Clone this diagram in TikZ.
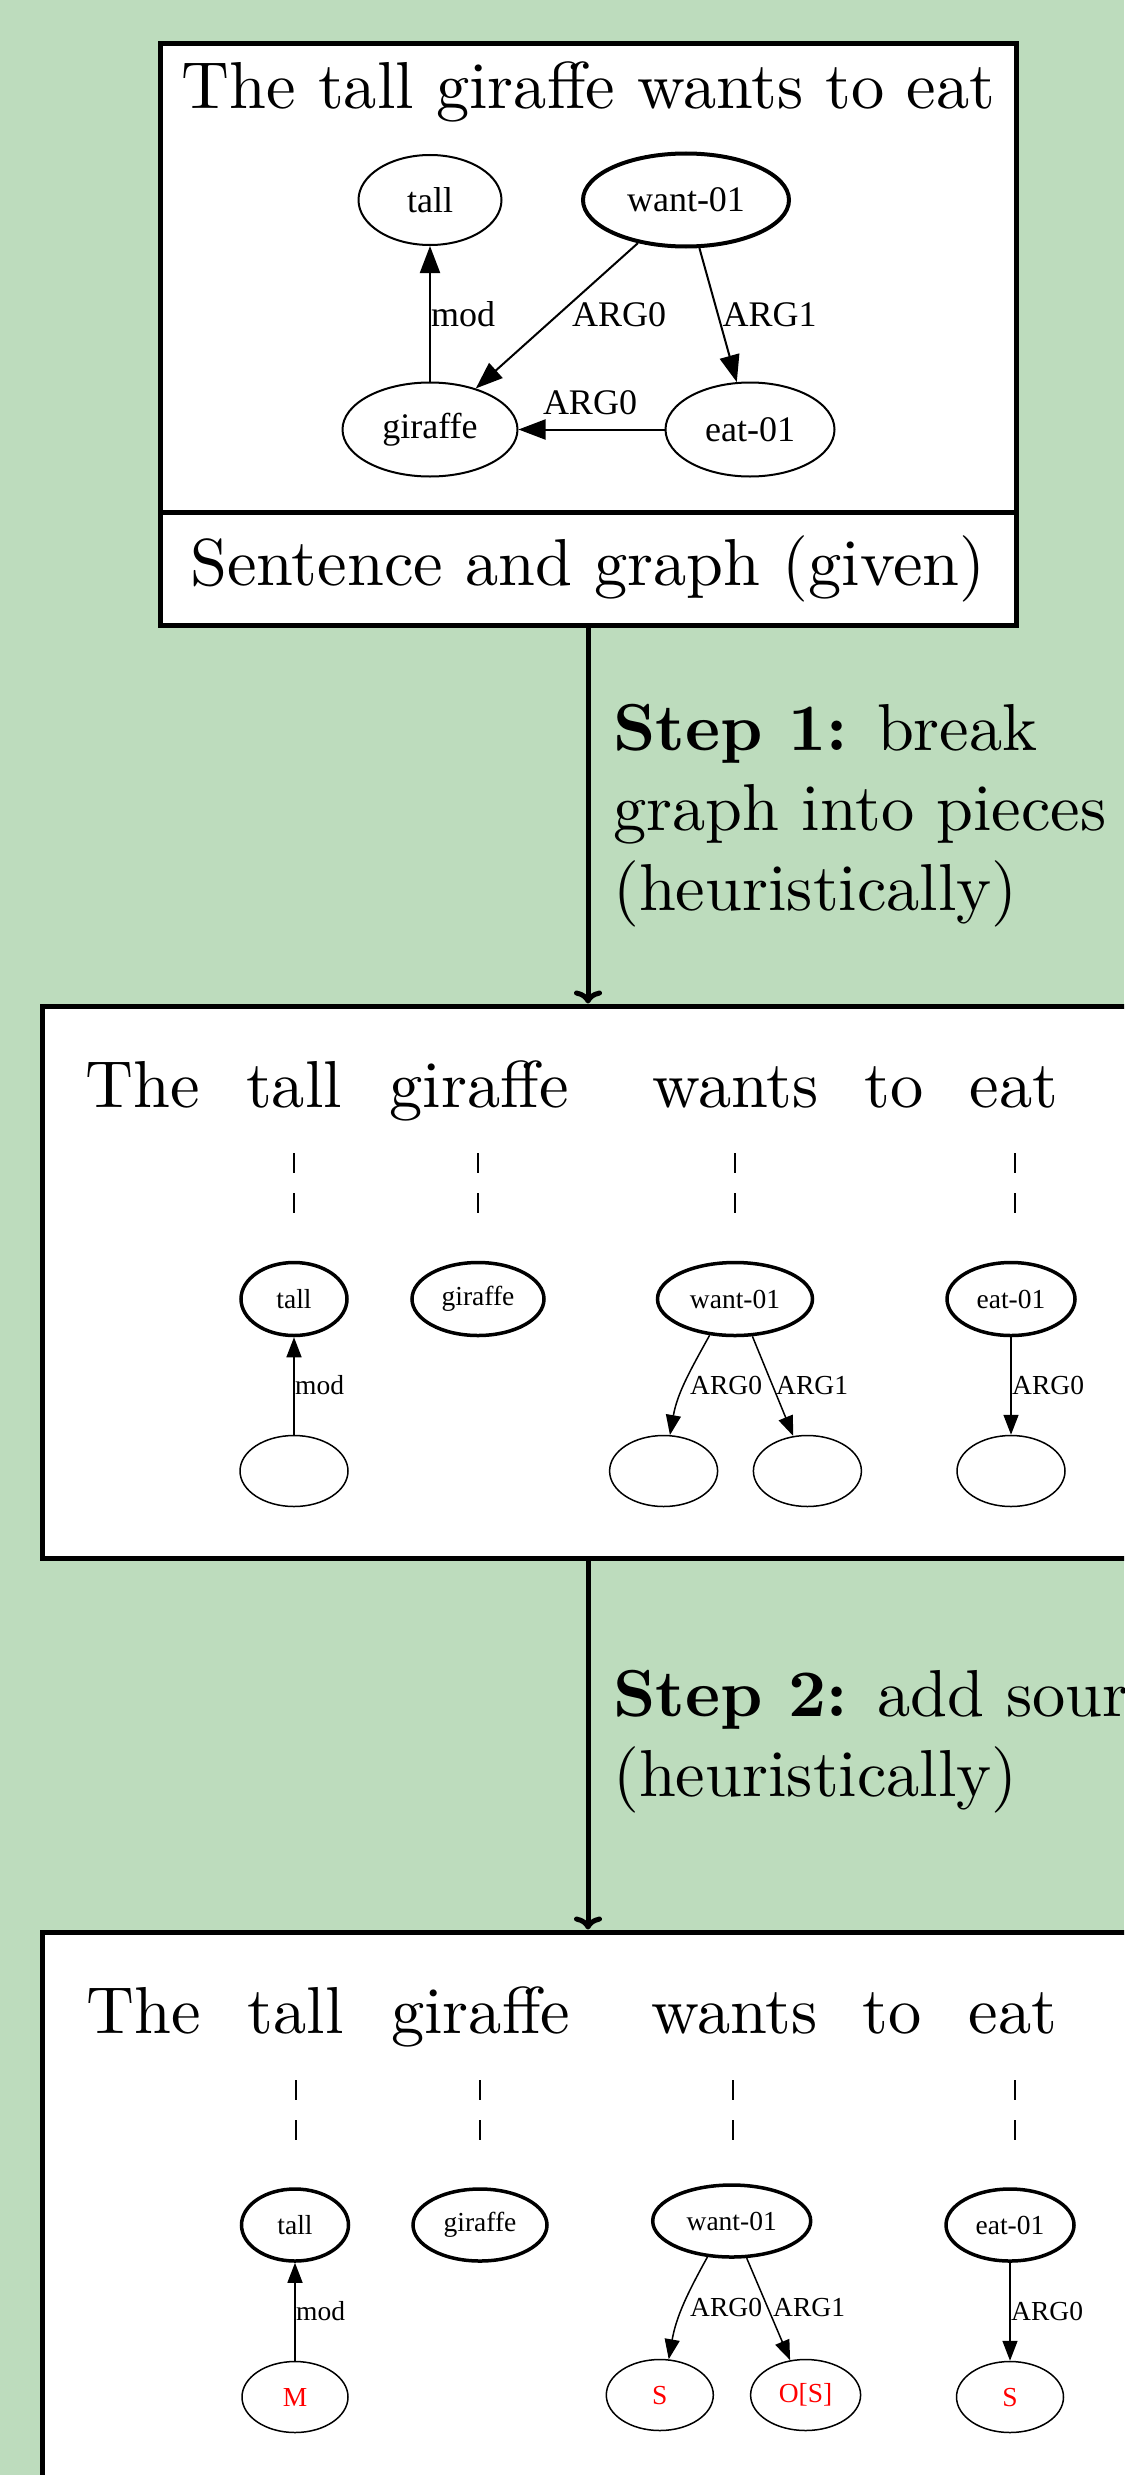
\documentclass[tikz,border=0pt]{standalone}
\usepackage{fontspec}
\setmainfont{lmroman10}[Extension=.otf, UprightFont=*-regular, BoldFont=*-bold]
\newfontfamily\gvfont{Liberation Serif}
\usetikzlibrary{shapes.geometric,arrows.meta}
\definecolor{bggreen}{RGB}{189,220,189}
\begin{document}
\begin{tikzpicture}[x=1pt,y=1pt,
  big/.style={font=\fontsize{66.4}{80}\selectfont, inner sep=0pt},
  box/.style={draw, line width=5pt, fill=white, rectangle, inner sep=0pt},
  gA/.style={ellipse, draw, line width=2pt, inner sep=0pt, font=\gvfont\fontsize{36}{43}\selectfont},
  gAthick/.style={gA, line width=4pt},
  gB/.style={ellipse, draw, line width=1.5pt, inner sep=0pt, minimum width=108pt, minimum height=71pt, font=\gvfont\fontsize{27.5}{33}\selectfont},
  gBthick/.style={gB, line width=3.5pt, minimum height=73pt},
  lblA/.style={inner sep=0pt, anchor=base west, font=\gvfont\fontsize{36}{43}\selectfont},
  lblB/.style={inner sep=0pt, anchor=base west, font=\gvfont\fontsize{27.5}{33}\selectfont},
  edgeA/.style={line width=2pt, -{Triangle[length=27pt,width=20pt]}},
  edgeB/.style={line width=1.5pt, -{Triangle[length=20pt,width=15pt]}},
  steparrow/.style={line width=5pt, -{To[length=13pt,width=28pt]}},
  wordlink/.style={line width=2.2pt, dash pattern=on 20pt off 20pt},
  word/.style={big, anchor=base},
  src/.style={text=red},
]
\useasboundingbox (0,0) rectangle (1124,-2475);
\clip (0,0) rectangle (1124,-2475);
\fill[bggreen] (0,0) rectangle (1124,-2475);

% ---------- top box ----------
\node[box, minimum width=856pt, minimum height=581.5pt] (topbox) at (588,-334.25) {};
\coordinate (divL) at (160,-512.5);
\coordinate (divR) at (1016,-512.5);
\draw[line width=5pt] (divL) -- (divR);
\node[big, anchor=base] (title) at (588.5,-108.5) {The tall giraffe wants to eat};
\node[big, anchor=base] (caption) at (588,-585) {Sentence and graph (given)};

\node[gA, minimum width=143pt, minimum height=90pt] (tallA) at (430,-200) {tall};
\node[gAthick, minimum width=206pt, minimum height=93pt] (wantA) at (686,-200) {want-01};
\node[gA, minimum width=175pt, minimum height=94pt] (girA) at (430,-429.5) {giraffe};
\node[gA, minimum width=169pt, minimum height=94pt] (eatA) at (750,-429.5) {eat-01};
\draw[edgeA] (girA) -- (tallA);
\draw[edgeA] (wantA) -- (girA);
\draw[edgeA] (wantA) -- (eatA);
\draw[edgeA] (eatA) -- (girA);
\node[lblA] (lA1) at (431,-326.6) {mod};
\node[lblA] (lA2) at (572,-326.6) {ARG0};
\node[lblA] (lA3) at (722.4,-326.6) {ARG1};
\node[lblA] (lA4) at (542.8,-414.6) {ARG0};

% ---------- middle box ----------
\node[box, minimum width=1092pt, minimum height=552pt] (midbox) at (588,-1282) {};
\draw[steparrow] (topbox.south) -- (midbox.north);
\node[big, anchor=base west, align=left] (step1) at (613,-910)
  {\textbf{Step 1:} break\\graph into pieces\\(heuristically)};

\node[word] (wB1) at (142.5,-1107) {The};
\node[word] (wB2) at (294,-1107) {tall};
\node[word] (wB3) at (479,-1107) {giraffe};
\node[word] (wB4) at (735.5,-1107) {wants};
\node[word] (wB5) at (894.5,-1107) {to};
\node[word] (wB6) at (1014,-1107) {eat};

\foreach \n/\x in {1/294,2/478,3/735,4/1015}{
  \coordinate (dBs\n) at (\x,-1153);
  \coordinate (dBe\n) at (\x,-1225);
  \draw[wordlink] (dBs\n) -- (dBe\n);
}

\node[gBthick, minimum width=106pt] (tallB) at (294,-1299) {tall};
\node[gBthick, minimum width=132pt] (girB) at (478,-1299) {giraffe};
\node[gBthick, minimum width=155pt] (wantB) at (735,-1299) {want-01};
\node[gBthick, minimum width=128pt] (eatB) at (1011,-1299) {eat-01};
\node[gB] (cT) at (294,-1471) {};
\node[gB] (cW1) at (663.6,-1471) {};
\node[gB] (cW2) at (807.4,-1471) {};
\node[gB] (cE) at (1011,-1471) {};
\draw[edgeB] (cT) -- (tallB);
\draw[edgeB] (wantB.235) to[out=241,in=80] (cW1.80);
\draw[edgeB] (wantB.295) -- (cW2.112);
\draw[edgeB] (eatB) -- (cE);
\node[lblB] (lB1) at (295,-1394) {mod};
\node[lblB] (lB2) at (690,-1394) {ARG0};
\node[lblB] (lB3) at (776,-1394) {ARG1};
\node[lblB] (lB4) at (1012,-1394) {ARG0};

% ---------- bottom box ----------
\node[box, minimum width=1092pt, minimum height=800pt] (botbox) at (588,-2332) {};
\draw[steparrow] (midbox.south) -- (botbox.north);
\node[big, anchor=base west, align=left] (step2) at (613,-1796.7)
  {\textbf{Step 2:} add sources\\(heuristically)};

\node[word] (wC1) at (144,-2033) {The};
\node[word] (wC2) at (295.5,-2033) {tall};
\node[word] (wC3) at (480.8,-2033) {giraffe};
\node[word] (wC4) at (734.4,-2033) {wants};
\node[word] (wC5) at (892.5,-2033) {to};
\node[word] (wC6) at (1013,-2033) {eat};

\foreach \n/\x in {1/296,2/480,3/733,4/1015}{
  \coordinate (dCs\n) at (\x,-2080);
  \coordinate (dCe\n) at (\x,-2152);
  \draw[wordlink] (dCs\n) -- (dCe\n);
}

\node[gBthick, minimum width=107pt, minimum height=72pt] (tallC) at (295,-2225) {tall};
\node[gBthick, minimum width=134pt, minimum height=72pt] (girC) at (480,-2225) {giraffe};
\node[gBthick, minimum width=158pt, minimum height=72pt] (wantC) at (731.7,-2221) {want-01};
\node[gBthick, minimum width=128pt, minimum height=72pt] (eatC) at (1010,-2225) {eat-01};
\node[gB, src, minimum width=106pt] (cM) at (295,-2397) {M};
\node[gB, src, minimum width=107pt] (cS1) at (659.8,-2395) {S};
\node[gB, src, minimum width=110pt] (cOS) at (805.6,-2395) {O[S]};
\node[gB, src, minimum width=107pt] (cS2) at (1010,-2397) {S};
\draw[edgeB] (cM) -- (tallC);
\draw[edgeB] (wantC.236) to[out=241,in=80] (cS1.76);
\draw[edgeB] (wantC.292) -- (cOS.114);
\draw[edgeB] (eatC) -- (cS2);
\node[lblB] (lC1) at (296,-2320) {mod};
\node[lblB] (lC2) at (690,-2316) {ARG0};
\node[lblB] (lC3) at (773,-2316) {ARG1};
\node[lblB] (lC4) at (1011,-2320) {ARG0};
\end{tikzpicture}
\end{document}
